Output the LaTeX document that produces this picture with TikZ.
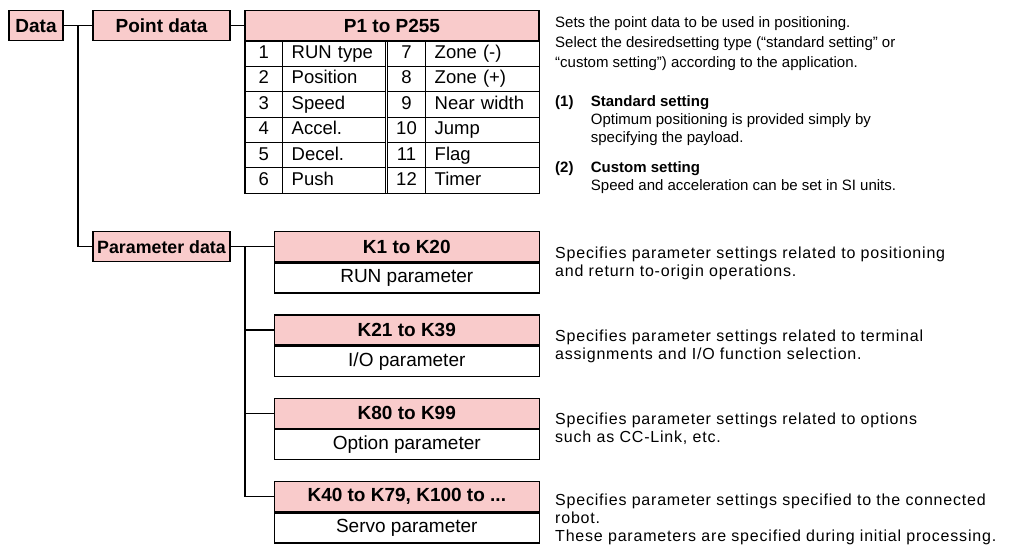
\documentclass[tikz,border=0pt]{standalone}
\usepackage{fontspec}
\setmainfont{Liberation Sans}
\usepackage{tikz}
\usetikzlibrary{positioning}
\usepackage{xcolor}
\definecolor{headpink}{RGB}{249,203,203}

\begin{document}
\begin{tikzpicture}[
    x=1pt, y=-1pt,
    box/.style={draw, line width=1.3pt, fill=headpink, inner sep=0pt, minimum height=30pt,
      font=\bfseries\fontsize{19}{22}\selectfont},
    body/.style={draw, line width=1.3pt, fill=white, inner sep=0pt, minimum height=30pt,
      minimum width=265pt, font=\fontsize{19}{22}\selectfont},
    numcell/.style={draw, line width=0.8pt, inner sep=0pt, minimum height=25.43pt,
      text height=13pt, text depth=3pt, font=\fontsize{18.5}{22}\selectfont},
    namecell/.style={numcell, align=left, inner xsep=9pt},
    desc/.style={anchor=north west, align=left, inner sep=0pt,
      font=\fontsize{15}{18.4}\selectfont},
    kdesc/.style={desc, font=\fontsize{16}{18}\selectfont\addfontfeatures{LetterSpace=5}},
    link/.style={line width=1.3pt}]

  \useasboundingbox (0,0) rectangle (1009,546);

  % Tree on the left
  \node[box, minimum width=54pt] (data) at (36,25.7) {Data};
  \node[box, minimum width=137pt] (point) at (161.5,25.7) {Point data};
  \node[box, minimum width=137pt, font=\bfseries\fontsize{17.8}{22}\selectfont] (param) at (161.5,246.7) {Parameter data};

  % Point data table
  \node[box, minimum width=294pt] (phead) at (392,25.7) {P1 to P255};
  \foreach \na/\nb [count=\i] in {RUN type/Zone (-), Position/Zone (+), Speed/Near width,
      Accel./Jump, Decel./Flag, Push/Timer} {
    \pgfmathsetmacro{\ry}{40.7+25.43*(\i-0.5)}
    \pgfmathtruncatemacro{\j}{\i+6}
    \node[numcell, minimum width=37.7pt] (n\i) at (263.85,\ry) {\i};
    \node[namecell, text width=85pt] (a\i) at (334.2,\ry) {\na};
    \node[numcell, minimum width=38.4pt] (m\i) at (406.5,\ry) {\j};
    \node[namecell, text width=95.3pt] (b\i) at (482.35,\ry) {\nb};
  }
  \draw[line width=1.3pt] (phead.south west) rectangle (b6.south east);

  % Parameter data boxes
  \foreach \k/\lbl/\y in {1/K1 to K20/246.7, 2/K21 to K39/330, 3/K80 to K99/413.3,
      4/{K40 to K79, K100 to ...}/496.7} {
    \node[box, minimum width=265pt] (kh\k) at (406.8,\y) {\lbl};
  }
  \node[body, below=0pt of kh1] (kb1) {RUN parameter};
  \node[body, below=0pt of kh2] (kb2) {I/O parameter};
  \node[body, below=0pt of kh3] (kb3) {Option parameter};
  \node[body, below=0pt of kh4] (kb4) {Servo parameter};

  % Connections
  \draw[link] (data) -- (point);
  \draw[link] (point) -- (phead);
  \coordinate (dj) at (78,25.7);
  \draw[link] (dj) |- (param.west);
  \draw[link] (param) -- (kh1);
  \coordinate (pj) at (245,246.7);
  \draw[link] (pj) |- (kh4.west);
  \foreach \k in {2,3} {
    \draw[link] (pj |- kh\k) -- (kh\k.west);
  }

  % Descriptions
  \node[desc, font=\fontsize{15}{20}\selectfont] (d0) at (555,16)
    {Sets the point data to be used in positioning.\\
     Select the desiredsetting type (“standard setting” or\\
     “custom setting”) according to the application.};
  \node[desc, font=\bfseries\fontsize{15}{18.4}\selectfont] (i1) at (555,95) {(1)};
  \node[desc] (t1) at (590.7,95)
    {\textbf{Standard setting}\\
     Optimum positioning is provided simply by\\
     specifying the payload.};
  \node[desc, font=\bfseries\fontsize{15}{18.4}\selectfont] (i2) at (555,161.5) {(2)};
  \node[desc] (t2) at (590.7,161.5)
    {\textbf{Custom setting}\\
     Speed and acceleration can be set in SI units.};

  \node[kdesc] (k1) at (555,246.5)
    {Specifies parameter settings related to positioning\\
     and return to-origin operations.};
  \node[kdesc] (k2) at (555,329.8)
    {Specifies parameter settings related to terminal\\
     assignments and I/O function selection.};
  \node[kdesc] (k3) at (555,412.8)
    {Specifies parameter settings related to options\\
     such as CC-Link, etc.};
  \node[kdesc] (k4) at (555,494)
    {Specifies parameter settings specified to the connected\\
     robot.\\
     These parameters are specified during initial processing.};

\end{tikzpicture}
\end{document}
